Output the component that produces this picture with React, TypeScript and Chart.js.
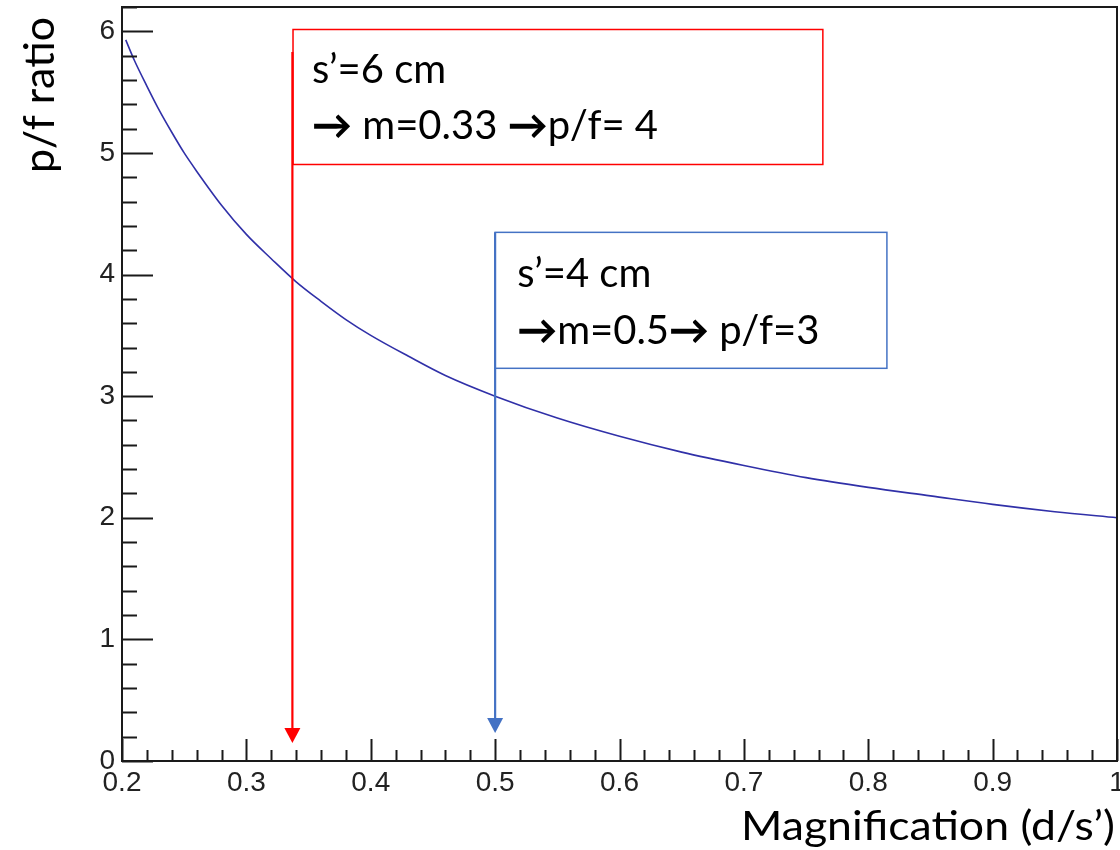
import React, { useEffect, useRef } from 'react';
import { Chart, registerables } from 'chart.js';

Chart.register(...registerables);

// Curve: magnification m (x) vs p/f ratio (y)
const magnification = [
  0.203, 0.21, 0.22, 0.23, 0.24, 0.25, 0.26, 0.28, 0.3, 0.32, 0.34, 0.36, 0.38, 0.4,
  0.43, 0.46, 0.5, 0.55, 0.6, 0.65, 0.7, 0.75, 0.8, 0.85, 0.9, 0.95, 1.0,
];
const pfRatio = [
  5.93, 5.76, 5.55, 5.35, 5.17, 5.0, 4.85, 4.57, 4.33, 4.13, 3.94, 3.78, 3.63, 3.5,
  3.33, 3.17, 3.0, 2.82, 2.67, 2.54, 2.43, 2.33, 2.25, 2.18, 2.11, 2.05, 2.0,
];

const xTitle = 'Magnification (d/s\u2019)';
const yTitle = 'p/f ratio';
const redNote = ['s\u2019=6 cm', '\u2192 m=0.33 \u2192p/f= 4'];
const blueNote = ['s\u2019=4 cm', '\u2192m=0.5\u2192 p/f=3'];
// marked points (m, p/f)
const redMark = [0.337, 4];
const blueMark = [0.5, 3];

const X_MIN = 0.2;
const X_MAX = 1.0;
const Y_MIN = 0;
const Y_MAX = 6.2;

const FAMILY = 'Lato, "Open Sans", sans-serif';

// draw a line of text; arrow glyphs are drawn in bold
function drawRuns(ctx: CanvasRenderingContext2D, text: string, x: number, y: number, size: number) {
  let cx = x;
  const runs: { t: string; bold: boolean }[] = [];
  for (const ch of text) {
    const bold = ch === '\u2192';
    const last = runs[runs.length - 1];
    if (last && last.bold === bold) last.t += ch;
    else runs.push({ t: ch, bold });
  }
  for (const r of runs) {
    ctx.font = `${r.bold ? '900 ' : ''}${size}px ${FAMILY}`;
    ctx.fillText(r.t, cx, y);
    cx += ctx.measureText(r.t).width;
  }
}

function fitText(ctx: CanvasRenderingContext2D, text: string, x: number, y: number, size: number, width: number) {
  ctx.font = `${size}px ${FAMILY}`;
  const w = ctx.measureText(text).width;
  ctx.save();
  ctx.translate(x, y);
  ctx.scale(width / w, 1);
  ctx.textAlign = 'left';
  ctx.fillText(text, 0, 0);
  ctx.restore();
}

const overlayPlugin = {
  id: 'rootOverlay',
  afterDraw(chart: any) {
    const { ctx, chartArea } = chart;
    const xs = chart.scales.x;
    const ys = chart.scales.y;
    const { left, right, top, bottom } = chartArea;
    ctx.save();

    // frame
    ctx.strokeStyle = '#1a1a1a';
    ctx.lineWidth = 2;
    ctx.strokeRect(left, top, right - left, bottom - top);

    // ticks (inward)
    ctx.beginPath();
    for (let i = 0; i <= 40; i++) {
      const v = X_MIN + i * 0.02;
      const px = Math.round(xs.getPixelForValue(v)) + 0.5;
      const len = i % 5 === 0 ? 22 : 11;
      ctx.moveTo(px, bottom);
      ctx.lineTo(px, bottom - len);
    }
    for (let i = 0; i <= 31; i++) {
      const v = Y_MIN + i * 0.2;
      const py = Math.round(ys.getPixelForValue(v)) + 0.5;
      const len = i % 5 === 0 ? 31 : 15;
      ctx.moveTo(left, py);
      ctx.lineTo(left + len, py);
    }
    ctx.stroke();

    const drawBox = (x0: number, y0: number, x1: number, y1: number, color: string) => {
      const a = xs.getPixelForValue(x0);
      const b = xs.getPixelForValue(x1);
      const c = ys.getPixelForValue(y0);
      const d = ys.getPixelForValue(y1);
      ctx.fillStyle = '#ffffff';
      ctx.fillRect(a, c, b - a, d - c);
      ctx.strokeStyle = color;
      ctx.lineWidth = 1.5;
      ctx.strokeRect(a, c, b - a, d - c);
      return { a, c };
    };
    const drawArrow = (m: number, yStart: number, yTip: number, color: string) => {
      const px = xs.getPixelForValue(m);
      const p0 = ys.getPixelForValue(yStart);
      const pt = ys.getPixelForValue(yTip);
      ctx.strokeStyle = color;
      ctx.lineWidth = 2.2;
      ctx.beginPath();
      ctx.moveTo(px, p0);
      ctx.lineTo(px, pt - 12);
      ctx.stroke();
      ctx.fillStyle = color;
      ctx.beginPath();
      ctx.moveTo(px - 8, pt - 15);
      ctx.lineTo(px + 8, pt - 15);
      ctx.lineTo(px, pt);
      ctx.closePath();
      ctx.fill();
    };

    const red = '#ff0000';
    const blue = '#4472c4';
    const rb = drawBox(0.3375, 6.015, 0.7635, 4.905, red);
    const bb = drawBox(0.5, 4.347, 0.815, 3.229, blue);
    drawArrow(redMark[0], 5.83, 0.148, red);
    drawArrow(blueMark[0], 4.347, 0.23, blue);

    ctx.fillStyle = '#000000';
    ctx.textAlign = 'left';
    ctx.textBaseline = 'alphabetic';
    drawRuns(ctx, redNote[0], rb.a + 19, rb.c + 54, 40);
    drawRuns(ctx, redNote[1], rb.a + 19, rb.c + 110, 40);
    drawRuns(ctx, blueNote[0], bb.a + 22, bb.c + 55, 40);
    drawRuns(ctx, blueNote[1], bb.a + 22, bb.c + 112, 40);

    // axis titles
    fitText(ctx, xTitle, 741, 840, 41, 374);

    ctx.translate(54, 95);
    ctx.rotate(-Math.PI / 2);
    ctx.font = `43px ${FAMILY}`;
    ctx.textAlign = 'center';
    ctx.fillText(yTitle, 0, 0);

    ctx.restore();
  },
};

export default function App() {
  const canvasRef = useRef<HTMLCanvasElement | null>(null);

  useEffect(() => {
    const canvas = canvasRef.current;
    if (!canvas) return;
    const chart = new Chart(canvas, {
      type: 'line',
      data: {
        datasets: [
          {
            data: magnification.map((m, i) => ({ x: m, y: pfRatio[i] })),
            borderColor: '#3030a8',
            borderWidth: 1.6,
            pointRadius: 0,
            fill: false,
            cubicInterpolationMode: 'monotone',
          },
        ],
      },
      options: {
        animation: false,
        responsive: false,
        devicePixelRatio: 1,
        layout: { padding: { left: 0, top: 7, right: 3, bottom: 0 } },
        plugins: {
          legend: { display: false },
          tooltip: { enabled: false },
        },
        scales: {
          x: {
            type: 'linear',
            min: X_MIN,
            max: X_MAX,
            grid: { display: false, drawTicks: false },
            border: { display: false },
            ticks: {
              stepSize: 0.1,
              autoSkip: false,
              maxRotation: 0,
              padding: 5,
              color: '#222222',
              font: { family: '"Liberation Sans", Arial, sans-serif', size: 28 },
              callback: (v: any) => {
                const n = Number(v);
                return Math.abs(n - 1) < 1e-9 ? '1' : n.toFixed(1);
              },
            },
            afterFit: (s: any) => {
              s.height = 89;
              s.paddingLeft = 0;
              s.paddingRight = 0;
            },
          },
          y: {
            type: 'linear',
            min: Y_MIN,
            max: Y_MAX,
            grid: { display: false, drawTicks: false },
            border: { display: false },
            ticks: {
              stepSize: 1,
              includeBounds: false,
              padding: 7,
              color: '#222222',
              font: { family: '"Liberation Sans", Arial, sans-serif', size: 28 },
              callback: (v: any) => String(Math.round(Number(v))),
            },
            afterFit: (s: any) => {
              s.width = 122;
              s.paddingTop = 0;
              s.paddingBottom = 0;
            },
          },
        },
      },
      plugins: [overlayPlugin],
    });
    return () => chart.destroy();
  }, []);

  return (
    <div style={{ position: 'absolute', left: 0, top: 0, width: 1120, height: 850, background: '#fff' }}>
      <canvas ref={canvasRef} width={1120} height={850} style={{ display: 'block', width: 1120, height: 850 }} />
    </div>
  );
}
